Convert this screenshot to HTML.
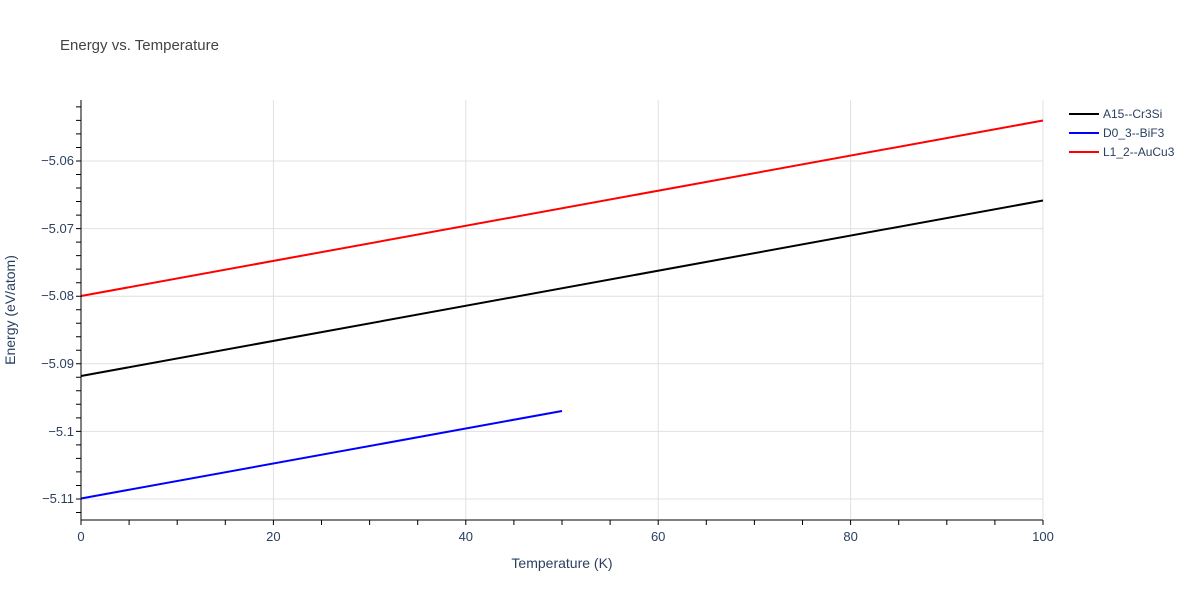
<!DOCTYPE html><html><head><meta charset="utf-8"><style>body{margin:0;background:#fff}svg{display:block;font-family:"Liberation Sans",sans-serif}</style></head><body>
<svg width="1200" height="600" xmlns="http://www.w3.org/2000/svg">
<rect width="1200" height="600" fill="#fff"/>
<text x="60" y="50" font-size="15" fill="#444">Energy vs. Temperature</text>
<g stroke="#e0e0e0" stroke-width="1">
<line x1="273.4" y1="100" x2="273.4" y2="519"/><line x1="465.8" y1="100" x2="465.8" y2="519"/><line x1="658.2" y1="100" x2="658.2" y2="519"/><line x1="850.6" y1="100" x2="850.6" y2="519"/><line x1="1043" y1="100" x2="1043" y2="519"/>
<line x1="81" y1="161" x2="1043" y2="161"/><line x1="81" y1="228.6" x2="1043" y2="228.6"/><line x1="81" y1="296.2" x2="1043" y2="296.2"/><line x1="81" y1="363.8" x2="1043" y2="363.8"/><line x1="81" y1="431.4" x2="1043" y2="431.4"/><line x1="81" y1="499" x2="1043" y2="499"/>
</g>
<polyline points="81,376 1043,200.5" stroke="#000" stroke-width="2" fill="none"/>
<polyline points="81,498.5 562,411" stroke="#0000ff" stroke-width="2" fill="none"/>
<polyline points="81,296 1043,120.5" stroke="#ff0000" stroke-width="2" fill="none"/>
<g stroke="#000" stroke-width="1">
<line x1="81" y1="100" x2="81" y2="520"/><line x1="80.5" y1="520" x2="1043" y2="520"/>
<path d="M76 106.9H81M76 120.4H81M76 133.9H81M76 147.5H81M76 161H81M76 174.5H81M76 188H81M76 201.5H81M76 215.1H81M76 228.6H81M76 242.1H81M76 255.6H81M76 269.1H81M76 282.7H81M76 296.2H81M76 309.7H81M76 323.2H81M76 336.7H81M76 350.3H81M76 363.8H81M76 377.3H81M76 390.8H81M76 404.3H81M76 417.9H81M76 431.4H81M76 444.9H81M76 458.4H81M76 471.9H81M76 485.5H81M76 499H81M76 512.5H81"/>
<path d="M81 520V525M129.1 520V525M177.2 520V525M225.3 520V525M273.4 520V525M321.5 520V525M369.6 520V525M417.7 520V525M465.8 520V525M513.9 520V525M562 520V525M610.1 520V525M658.2 520V525M706.3 520V525M754.4 520V525M802.5 520V525M850.6 520V525M898.7 520V525M946.8 520V525M994.9 520V525M1043 520V525"/>
</g>
<g font-size="13" fill="#2a3f5f" text-anchor="end">
<text x="74" y="165">−5.06</text><text x="74" y="233">−5.07</text><text x="74" y="300">−5.08</text><text x="74" y="368">−5.09</text><text x="74" y="436">−5.1</text><text x="74" y="503">−5.11</text>
</g>
<g font-size="13" fill="#2a3f5f" text-anchor="middle">
<text x="81" y="541">0</text><text x="273.4" y="541">20</text><text x="465.8" y="541">40</text><text x="658.2" y="541">60</text><text x="850.6" y="541">80</text><text x="1043" y="541">100</text>
</g>
<text x="562" y="568" font-size="14" fill="#2a3f5f" text-anchor="middle">Temperature (K)</text>
<text transform="translate(15,310) rotate(-90)" font-size="14" fill="#2a3f5f" text-anchor="middle">Energy (eV/atom)</text>
<g font-size="12" fill="#2a3f5f">
<line x1="1069" y1="114" x2="1099" y2="114" stroke="#000" stroke-width="2"/><text x="1103" y="118">A15--Cr3Si</text>
<line x1="1069" y1="133" x2="1099" y2="133" stroke="#0000ff" stroke-width="2"/><text x="1103" y="137">D0_3--BiF3</text>
<line x1="1069" y1="152" x2="1099" y2="152" stroke="#ff0000" stroke-width="2"/><text x="1103" y="156">L1_2--AuCu3</text>
</g>
</svg></body></html>
